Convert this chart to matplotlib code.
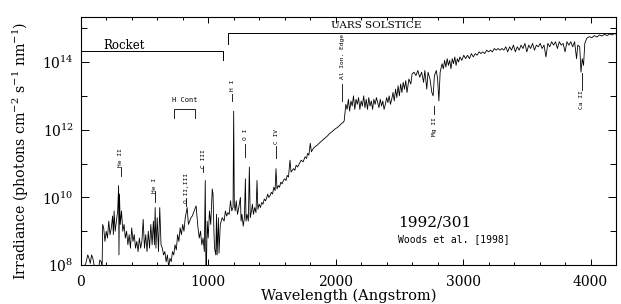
import numpy as np
import matplotlib
matplotlib.use('Agg')
import matplotlib.pyplot as plt
from matplotlib.ticker import FixedLocator, FixedFormatter, MultipleLocator

plt.rcParams['font.family'] = 'DejaVu Serif'
plt.rcParams['mathtext.fontset'] = 'dejavuserif'

# spectrum: wavelength (Angstrom) and log10 irradiance
wl_euv = [20, 40, 55, 65, 75, 85, 95, 110, 140, 150, 160, 168, 172, 180, 190, 200,
          210, 220, 230, 240, 250, 256, 262, 270, 280, 290, 297, 300, 304, 310, 320,
          330, 340, 350, 360, 370, 380, 390, 400, 410, 420, 430, 440, 450, 460, 470,
          480, 490, 500, 510, 520, 530, 540, 550, 560, 570, 578, 584, 590, 600, 610,
          620, 630, 640, 650, 660, 670, 680, 690, 700, 710, 720, 730, 740, 750, 760,
          770, 780, 790, 800, 810, 820, 835, 845, 855, 865, 875, 885, 895, 905, 912,
          920, 930, 940, 950, 960, 970, 977, 982, 986, 992, 1000, 1010, 1020, 1032,
          1038, 1045, 1050, 1060, 1065, 1070, 1080, 1085, 1095, 1110, 1125, 1135,
          1145, 1155, 1165, 1175, 1185, 1195]
log_euv = [7.9, 8.05, 8.3, 8.2, 8.05, 8.3, 8.2, 7.9, 7.9, 8.15, 8.1, 7.95, 9.2, 9.1, 8.7, 9.0,
           8.8, 9.3, 8.9, 9.1, 9.45, 8.9, 9.6, 9.0, 9.3, 9.6, 10.35, 8.3, 10.1, 9.2, 9.6,
           9.0, 9.2, 8.8, 9.0, 8.6, 8.9, 8.5, 9.1, 8.7, 8.9, 8.5, 8.7, 8.4, 8.8, 8.5,
           8.7, 9.35, 8.5, 8.9, 8.4, 9.0, 8.5, 9.2, 8.6, 9.3, 8.6, 9.7, 8.5, 9.4, 8.4,
           9.7, 8.6, 8.5, 8.3, 8.4, 8.1, 8.3, 7.95, 8.2, 8.1, 8.4, 8.3, 8.6, 8.45, 8.9,
           8.7, 9.1, 8.9, 9.2, 9.0, 9.4, 9.7, 9.2, 9.3, 9.4, 9.45, 9.55, 9.65, 9.75, 9.45,
           9.1, 8.8, 9.0, 8.6, 8.8, 8.4, 10.5, 8.0, 7.9, 9.3, 8.8, 9.6, 9.2, 10.25,
           10.1, 9.0, 8.5, 8.3, 9.5, 8.3, 9.4, 8.35, 9.2, 9.4, 9.3, 9.6,
           9.45, 9.55, 9.5, 9.9, 9.6, 9.7]

wl_fuv = [1200, 1205, 1212, 1220, 1230, 1240, 1253, 1258, 1265, 1275, 1284, 1292, 1297,
          1305, 1315, 1323, 1330, 1340, 1347, 1355, 1365, 1375, 1383, 1390, 1400, 1410,
          1420, 1430, 1440, 1450, 1460, 1467, 1475, 1485, 1495, 1505, 1515, 1525, 1532,
          1540, 1550, 1560, 1570, 1580, 1590, 1600, 1610, 1620, 1630, 1642, 1650, 1660,
          1670, 1680, 1690, 1702, 1715, 1730, 1745, 1760, 1772, 1780, 1790, 1801, 1810,
          1825, 1840, 1858, 1870, 1885, 1900, 1915, 1937, 1950, 1965, 1980, 1995, 2015,
          2030, 2045, 2060, 2067, 2080, 2090]
log_fuv = [12.55, 9.8, 9.6, 9.9, 9.5, 9.7, 10.0, 9.3, 9.5, 9.15, 9.4, 10.55, 9.3,
           9.5, 9.3, 10.9, 9.4, 9.6, 9.8, 9.5, 9.7, 9.55, 10.5, 9.65, 9.8, 9.7,
           9.85, 9.8, 9.95, 9.9, 10.0, 10.1, 10.0, 10.05, 10.15, 10.1, 10.3, 10.2, 10.85,
           10.25, 10.35, 10.3, 10.45, 10.4, 10.5, 10.55, 10.5, 10.65, 10.6, 11.1, 10.75, 10.8,
           10.85, 10.8, 10.95, 10.9, 11.0, 11.1, 11.05, 11.2, 11.15, 11.3, 11.25, 11.6, 11.35,
           11.45, 11.5, 11.55, 11.6, 11.65, 11.7, 11.75, 11.82, 11.88, 11.92, 11.97, 12.02, 12.07,
           12.12, 12.18, 12.22, 12.26, 12.75, 12.6]

wl_muv = [2100, 2110, 2120, 2130, 2140, 2150, 2160, 2170, 2180, 2190, 2200, 2210, 2220,
          2230, 2240, 2250, 2260, 2270, 2280, 2290, 2300, 2310, 2320, 2330, 2340, 2350,
          2360, 2370, 2380, 2390, 2400, 2410, 2420, 2430, 2440, 2450, 2460, 2470, 2480,
          2490, 2500, 2510, 2520, 2530, 2540, 2550, 2560, 2575, 2590, 2600, 2615, 2630,
          2645, 2660, 2675, 2690, 2700, 2715, 2725, 2740, 2755, 2765, 2775, 2790, 2800,
          2810, 2820, 2835, 2845, 2855, 2865, 2875, 2885, 2895, 2905, 2915, 2925, 2935,
          2945, 2955, 2965, 2975, 2990, 3005, 3020, 3035, 3050, 3065, 3080, 3095, 3110,
          3125, 3140, 3155, 3170, 3185, 3200, 3215, 3230, 3245, 3260, 3275, 3290, 3305,
          3320, 3335, 3350, 3365, 3380, 3395, 3410, 3425, 3440, 3455, 3470, 3485, 3500,
          3515, 3530, 3545, 3560, 3575, 3590, 3605, 3620, 3635, 3650, 3665, 3680, 3695,
          3710, 3725, 3740, 3755, 3770, 3785, 3800, 3815, 3830, 3845, 3860, 3875, 3890,
          3900, 3915, 3925, 3935, 3945, 3955, 3970, 3990, 4010, 4030, 4050, 4070, 4090,
          4110, 4130, 4150, 4170, 4190, 4200]
log_muv = [12.9, 12.55, 12.85, 12.7, 13.0, 12.6, 12.9, 12.75, 12.95, 12.6, 12.85, 12.7, 13.0,
           12.65, 12.9, 12.6, 12.95, 12.7, 12.85, 12.6, 12.9, 12.75, 12.95, 12.8, 12.65, 12.9,
           12.7, 12.85, 12.6, 12.75, 12.95, 12.8, 13.0, 12.75, 12.9, 13.1, 12.85, 13.2, 12.95,
           13.3, 13.0, 13.35, 13.1, 13.4, 13.2, 13.45, 13.1, 13.5, 13.35, 13.65, 13.7, 13.6,
           13.75, 13.55, 13.7, 13.4, 13.75, 13.2, 13.7, 13.5, 13.1, 13.0, 13.6, 13.75, 13.5,
           12.85, 13.7, 13.95, 13.8, 14.05, 13.85, 14.1, 13.9, 14.05, 13.8, 14.1, 13.95, 14.15,
           13.9, 14.1, 14.0, 14.15, 14.05, 14.2, 14.1, 14.2, 14.1, 14.25, 14.15, 14.25, 14.2,
           14.3, 14.25, 14.3, 14.25, 14.35, 14.3, 14.35, 14.3, 14.4, 14.35, 14.4, 14.35, 14.4,
           14.35, 14.45, 14.3, 14.45, 14.35, 14.5, 14.3, 14.45, 14.35, 14.5, 14.4, 14.55, 14.3,
           14.5, 14.4, 14.55, 14.35, 14.5, 14.45, 14.55, 14.4, 14.5, 14.15, 14.55, 14.45, 14.6,
           14.5, 14.6, 14.4, 14.6, 14.5, 14.55, 14.3, 14.6, 14.5, 14.6, 14.45, 14.6, 14.1,
           14.5, 14.45, 13.7, 14.1, 13.9, 14.55, 14.7, 14.75, 14.72, 14.78, 14.74, 14.8, 14.77,
           14.82, 14.78, 14.83, 14.8, 14.85, 14.82]

# line identifications: name, wavelength, text log10 position, tick bottom/top (log10)
line_names = ['He II', 'He I', 'O II,III', 'C III', 'H I', 'O I', 'C IV', 'Al Ion. Edge', 'Mg II', 'Ca II']
line_wl = [313, 580, 828, 963, 1190, 1292, 1535, 2052, 2772, 3931]
line_text_log = [11.18, 10.35, 10.29, 11.15, 13.3, 11.85, 11.8, 14.15, 12.09, 12.9]
line_tick_lo = [10.62, 9.85, 9.76, 10.74, 12.85, 11.18, 11.15, 12.85, 12.47, 13.18]
line_tick_hi = [10.91, 10.2, 9.97, 10.94, 13.06, 11.59, 11.53, 13.35, 12.7, 13.68]

wl = np.array(wl_euv + wl_fuv + wl_muv)
irr = 10.0 ** np.array(log_euv + log_fuv + log_muv)

fig = plt.figure(figsize=(6.21, 3.04), dpi=100)
ax = fig.add_axes([0.130, 0.128, 0.862, 0.816])

ax.plot(wl, irr, color='black', lw=0.6)
ax.set_yscale('log')
ax.set_xlim(0, 4200)
ax.set_ylim(1e8, 10 ** 15.33)

ax.yaxis.set_major_locator(FixedLocator([1e8, 1e10, 1e12, 1e14]))
ax.yaxis.set_major_formatter(FixedFormatter(['$10^{8}$', '$10^{10}$', '$10^{12}$', '$10^{14}$']))
ax.yaxis.set_minor_locator(FixedLocator([1e9, 1e11, 1e13, 1e15]))
ax.yaxis.set_minor_formatter(FixedFormatter([]))
ax.xaxis.set_major_locator(MultipleLocator(1000))
ax.xaxis.set_minor_locator(MultipleLocator(200))
ax.tick_params(which='both', direction='in', top=True, right=True, labelsize=10, width=0.7)
ax.tick_params(axis='y', which='major', length=6, pad=5)
ax.tick_params(axis='y', which='minor', length=4)
ax.tick_params(axis='x', which='major', length=4.5, pad=7)
ax.tick_params(axis='x', which='minor', length=2.5)
for s in ax.spines.values():
    s.set_linewidth(0.8)

ax.set_xlabel('Wavelength (Angstrom)', fontsize=10.5, labelpad=0)
ax.set_ylabel('Irradiance (photons cm$^{-2}$ s$^{-1}$ nm$^{-1}$)', fontsize=10.2)
ax.yaxis.set_label_coords(-0.092, 0.46)

# line labels
for name, x, ty, lo, hi in zip(line_names, line_wl, line_text_log, line_tick_lo, line_tick_hi):
    ax.plot([x, x], [10 ** lo, 10 ** hi], color='black', lw=0.6)
    ax.text(x, 10 ** ty, name, rotation=90, ha='center', va='center',
            fontsize=4.5, family='DejaVu Sans Mono')

# H continuum bracket
ax.plot([728, 728, 900, 900], [10 ** 12.35, 10 ** 12.62, 10 ** 12.62, 10 ** 12.35], color='black', lw=0.6)
ax.text(815, 10 ** 12.88, 'H Cont', ha='center', va='center', fontsize=5, family='DejaVu Sans Mono')

# instrument ranges
ax.plot([0, 1120, 1120], [10 ** 14.32, 10 ** 14.32, 10 ** 14.06], color='black', lw=0.7)
ax.text(180, 10 ** 14.5, 'Rocket', ha='left', va='center', fontsize=8.5)
ax.plot([1159, 1159, 4200], [10 ** 14.53, 10 ** 14.85, 10 ** 14.85], color='black', lw=0.7)
ax.text(1965, 10 ** 15.07, 'UARS SOLSTICE', ha='left', va='center', fontsize=7.5)

ax.text(2780, 10 ** 9.26, '1992/301', ha='center', va='center', fontsize=11)
ax.text(2930, 10 ** 8.78, 'Woods et al. [1998]', ha='center', va='center', fontsize=7,
        family='DejaVu Sans Mono')

fig.savefig('out.png', dpi=100)
